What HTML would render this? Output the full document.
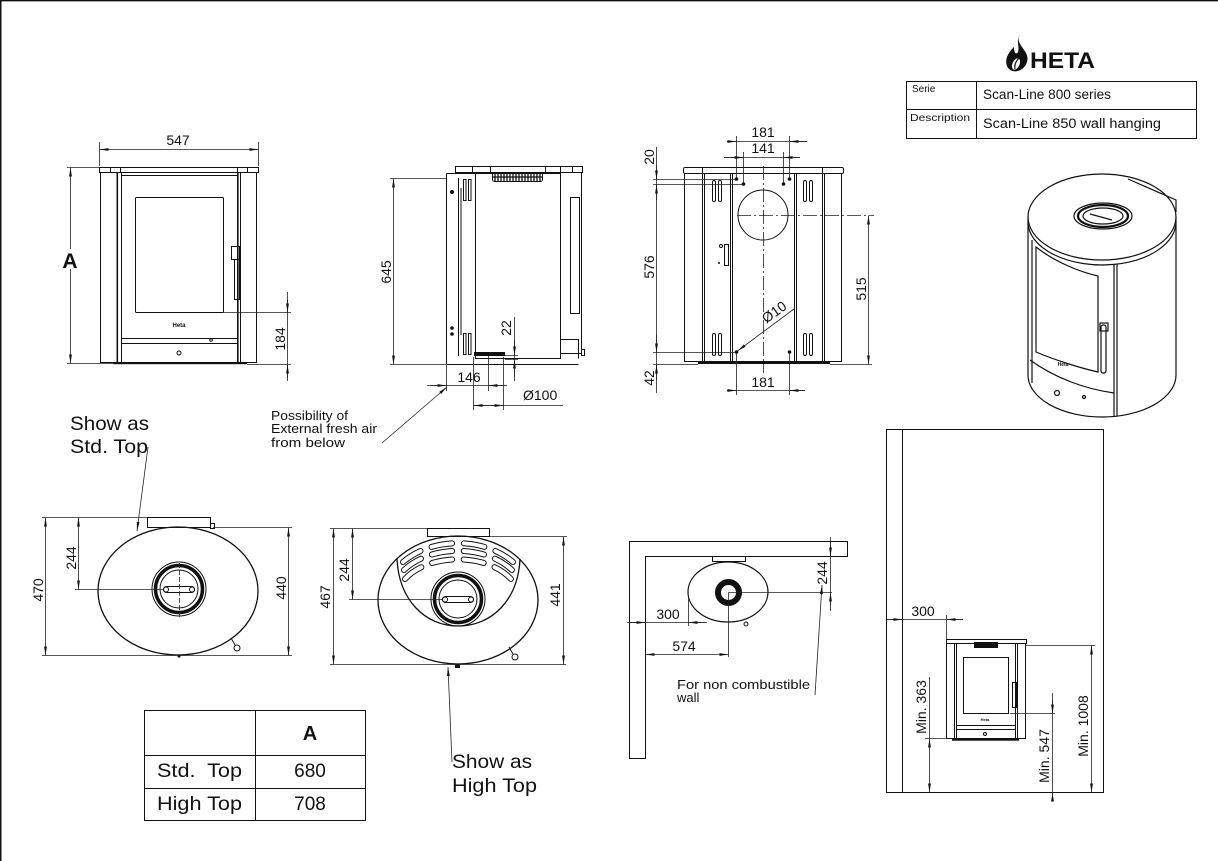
<!DOCTYPE html>
<html><head><meta charset="utf-8"><style>
html,body{margin:0;padding:0;background:#fff;}
svg{display:block;}
text{font-family:"Liberation Sans",sans-serif;fill:#111;}
</style></head><body>
<svg width="1218" height="861" viewBox="0 0 1218 861" xmlns="http://www.w3.org/2000/svg">
<defs>
<marker id="a" viewBox="0 0 9 4" refX="9" refY="2" markerWidth="9" markerHeight="4" orient="auto-start-reverse" markerUnits="userSpaceOnUse"><path d="M0,0.6 L9,2 L0,3.4z" fill="#111"/></marker>
</defs>
<rect width="1218" height="861" fill="#fff"/>
<path d="M0.75,861 V0.6 H1218" stroke="#111" stroke-width="1.5" fill="none"/>

<!-- ============ FRONT VIEW ============ -->
<g fill="none" stroke="#111" stroke-width="1">
<rect x="99.5" y="167.5" width="159" height="5"/>
<path d="M110.5,167.5v5M120.5,167.5v5M237.5,167.5v5M247.5,167.5v5"/>
<rect x="100.5" y="172.5" width="156" height="190"/>
<path d="M117.5,172.5V362.5M121.5,172.5V362.5M237.5,172.5V362.5M240.5,172.5V362.5"/>
<path d="M121.5,175.5H237.5"/>
<rect x="135.5" y="197.5" width="88" height="115" rx="1"/>
<rect x="231.5" y="246.5" width="8" height="13"/>
<rect x="234.5" y="259.5" width="5" height="40"/>
<path d="M121.5,338.5H237.5M121.5,343.5H237.5"/>
<circle cx="179" cy="353" r="2"/>
<circle cx="211" cy="340" r="1.3"/>
</g>
<rect x="116.5" y="172" width="1.6" height="190" fill="#111"/>
<rect x="237" y="172" width="1.6" height="190" fill="#111"/>
<rect x="113" y="362" width="134" height="2.2" fill="#111"/>
<text x="179" y="327" font-size="6" font-weight="bold" text-anchor="middle">Heta</text>

<g stroke="#222" stroke-width="0.8" fill="none">
<path d="M99.5,142V166M258.5,142V166"/>
<line x1="99.5" y1="149.5" x2="258.5" y2="149.5" marker-start="url(#a)" marker-end="url(#a)"/>
<path d="M67,167.5H99M67,363.5H113"/>
<line x1="70.5" y1="167.5" x2="70.5" y2="363.5" marker-start="url(#a)" marker-end="url(#a)"/>
<path d="M223,312.5H291M247,364.5H291M287.5,292V381"/>
<line x1="287.5" y1="300" x2="287.5" y2="312.5" marker-end="url(#a)"/>
<line x1="287.5" y1="378" x2="287.5" y2="364.5" marker-end="url(#a)"/>
</g>
<rect x="60" y="249" width="22" height="20" fill="#fff"/>
<text x="70" y="268" font-size="21" font-weight="bold" text-anchor="middle">A</text>
<text x="178" y="145" font-size="14" text-anchor="middle">547</text>
<text transform="translate(285,339) rotate(-90)" font-size="14" text-anchor="middle">184</text>

<!-- ============ SIDE VIEW ============ -->
<g fill="none" stroke="#111" stroke-width="1">
<rect x="455.5" y="166.5" width="127" height="6"/>
<path d="M472.5,166.5v6M490.5,166.5v6M545.5,166.5v6M560.5,166.5v6M572.5,166.5v6"/>
<path d="M446.5,173.5H475.5M446.5,173.5V364.5"/>
<path d="M458.5,178V356M461,188V335"/>
<rect x="475.5" y="173.5" width="85" height="185"/>
<rect x="560.5" y="172.5" width="21" height="181"/>
<rect x="570.5" y="197.5" width="9" height="116"/>
<path d="M560.5,339.5H578.5V358.5"/>
<rect x="581.5" y="349.5" width="3" height="6"/>
<path d="M446.5,364.5H578.5"/>
<rect x="463.5" y="179.5" width="2.5" height="21"/>
<rect x="468.5" y="179.5" width="2.5" height="21"/>
<rect x="463.5" y="333.5" width="2.5" height="21"/>
<rect x="468.5" y="333.5" width="2.5" height="21"/>
<rect x="492.5" y="172.5" width="50" height="9" rx="2"/>
</g>
<path d="M495,173v8M498,173v8M501,173v8M504,173v8M507,173v8M510,173v8M513,173v8M516,173v8M519,173v8M522,173v8M525,173v8M528,173v8M531,173v8M534,173v8M537,173v8M540,173v8M493,177H542" stroke="#111" stroke-width="1.3"/>
<circle cx="452" cy="192" r="2" fill="#111"/>
<circle cx="452" cy="328" r="1.8" fill="#111"/>
<circle cx="452" cy="334" r="1.8" fill="#111"/>
<rect x="474" y="352" width="31" height="4" fill="#111"/>

<g stroke="#222" stroke-width="0.8" fill="none">
<path d="M390,178.5H446M390,364.5H446"/>
<line x1="393.5" y1="178.5" x2="393.5" y2="364.5" marker-start="url(#a)" marker-end="url(#a)"/>
<path d="M505,355.5H518M505,359.5H518M514.5,317V381"/>
<line x1="514.5" y1="340" x2="514.5" y2="355.5" marker-end="url(#a)"/>
<line x1="514.5" y1="376" x2="514.5" y2="359.5" marker-end="url(#a)"/>
<path d="M446.5,365V391M488.5,356V391M427,385.5H507"/>
<line x1="430" y1="385.5" x2="446.5" y2="385.5" marker-end="url(#a)"/>
<line x1="505" y1="385.5" x2="488.5" y2="385.5" marker-end="url(#a)"/>
<path d="M473.5,357V410M503.5,357V410M473.5,405.5H563"/>
<line x1="488" y1="405.5" x2="473.5" y2="405.5" marker-end="url(#a)"/>
<line x1="488" y1="405.5" x2="503.5" y2="405.5" marker-end="url(#a)"/>
<line x1="382" y1="443" x2="447" y2="387" marker-end="url(#a)"/>
</g>
<text transform="translate(391,272) rotate(-90)" font-size="14" text-anchor="middle">645</text>
<text transform="translate(511,328) rotate(-90)" font-size="14" text-anchor="middle">22</text>
<text x="469" y="382" font-size="14" text-anchor="middle">146</text>
<text x="523" y="400" font-size="14">Ø100</text>
<text x="271" y="420" font-size="13" textLength="77" lengthAdjust="spacingAndGlyphs">Possibility of</text>
<text x="271" y="433" font-size="13" textLength="106" lengthAdjust="spacingAndGlyphs">External fresh air</text>
<text x="271" y="447" font-size="13" textLength="74" lengthAdjust="spacingAndGlyphs">from below</text>

<!-- ============ BACK VIEW ============ -->
<g fill="none" stroke="#111" stroke-width="1">
<rect x="683.5" y="167.5" width="160" height="6" rx="1.5"/>
<path d="M702.5,167.5v6M822.5,167.5v6"/>
<rect x="684.5" y="173.5" width="157" height="188"/>
<path d="M702.5,173.5V361.5M704.5,173.5V361.5M730.5,173.5V361.5M732.5,173.5V361.5M794.5,173.5V361.5M796.5,173.5V361.5M822.5,173.5V361.5M824.5,173.5V361.5"/>
<circle cx="763" cy="215" r="25"/>
<rect x="712.5" y="180.5" width="3" height="21" rx="1.5"/>
<rect x="718.5" y="180.5" width="3" height="21" rx="1.5"/>
<rect x="712.5" y="333.5" width="3" height="22" rx="1.5"/>
<rect x="718.5" y="333.5" width="3" height="22" rx="1.5"/>
<rect x="803.5" y="180.5" width="3" height="21" rx="1.5"/>
<rect x="809.5" y="180.5" width="3" height="21" rx="1.5"/>
<rect x="803.5" y="333.5" width="3" height="22" rx="1.5"/>
<rect x="809.5" y="333.5" width="3" height="22" rx="1.5"/>
<rect x="724.5" y="244.5" width="4" height="21"/>
<circle cx="721" cy="246" r="1.5"/>
</g>
<rect x="698" y="361.5" width="132" height="2.5" fill="#111"/>
<path d="M763.5,166V373M737,215.5H874" stroke="#222" stroke-width="0.8" stroke-dasharray="14 3 2 3" fill="none"/>
<g fill="#111">
<circle cx="736.5" cy="179" r="1.8"/><circle cx="743.5" cy="184" r="1.8"/>
<circle cx="783.5" cy="184" r="1.8"/><circle cx="789.5" cy="179" r="1.8"/>
<circle cx="736.5" cy="352" r="1.8"/><circle cx="789.5" cy="352" r="1.8"/>
<circle cx="719" cy="263" r="1"/>
</g>

<g stroke="#222" stroke-width="0.8" fill="none">
<path d="M736.5,136V178M789.5,136V178M727,141.5H807"/>
<line x1="727" y1="141.5" x2="736.5" y2="141.5" marker-end="url(#a)"/>
<line x1="807" y1="141.5" x2="789.5" y2="141.5" marker-end="url(#a)"/>
<path d="M743.5,152V183M783.5,152V183M724,157.5H800"/>
<line x1="724" y1="157.5" x2="743.5" y2="157.5" marker-end="url(#a)"/>
<line x1="800" y1="157.5" x2="783.5" y2="157.5" marker-end="url(#a)"/>
<path d="M656.5,147V393M653,179.5H735M653,184.5H742M653,352.5H735M653,364.5H698"/>
<line x1="656.5" y1="165" x2="656.5" y2="179.5" marker-end="url(#a)"/>
<line x1="656.5" y1="200" x2="656.5" y2="184.5" marker-end="url(#a)"/>
<line x1="656.5" y1="335" x2="656.5" y2="352.5" marker-end="url(#a)"/>
<line x1="656.5" y1="380" x2="656.5" y2="364.5" marker-end="url(#a)"/>
<path d="M830,364.5H872"/>
<line x1="868.5" y1="215.5" x2="868.5" y2="364.5" marker-start="url(#a)" marker-end="url(#a)"/>
<line x1="794" y1="309" x2="737.5" y2="351" marker-end="url(#a)"/>
<path d="M736.5,353V395M789.5,353V395M727,390.5H805"/>
<line x1="727" y1="390.5" x2="736.5" y2="390.5" marker-end="url(#a)"/>
<line x1="805" y1="390.5" x2="789.5" y2="390.5" marker-end="url(#a)"/>
</g>
<text x="763" y="137" font-size="14" text-anchor="middle">181</text>
<text x="763" y="153" font-size="14" text-anchor="middle">141</text>
<text transform="translate(654,157) rotate(-90)" font-size="14" text-anchor="middle">20</text>
<text transform="translate(654,267) rotate(-90)" font-size="14" text-anchor="middle">576</text>
<text transform="translate(654,378) rotate(-90)" font-size="14" text-anchor="middle">42</text>
<text transform="translate(866,289) rotate(-90)" font-size="14" text-anchor="middle">515</text>
<text transform="translate(777,316) rotate(-36)" font-size="14" text-anchor="middle">Ø10</text>
<text x="763" y="387" font-size="14" text-anchor="middle">181</text>

<!-- ============ LOGO + TITLE TABLE ============ -->
<path d="M1021,33 C1012,44 1031,50 1027,62 C1024,72 1011,75 1007,66 C1004,58 1010,51 1014,47 C1014,53 1016,55 1018,52 C1020,46 1015,40 1021,33 Z" fill="#111"/>
<ellipse cx="1016" cy="64" rx="3.5" ry="6" transform="rotate(25 1016 64)" fill="#fff"/>
<path d="M1015,69 C1014,64 1017,60 1019,58" stroke="#111" stroke-width="1.2" fill="none"/>
<text x="1030" y="68" font-size="22" font-weight="bold" textLength="65" lengthAdjust="spacingAndGlyphs">HETA</text>
<g fill="none" stroke="#111" stroke-width="1">
<rect x="906.5" y="81.5" width="290" height="57"/>
<path d="M976.5,81V138M906,109.5H1196"/>
</g>
<text x="912" y="92" font-size="10">Serie</text>
<text x="983" y="99" font-size="13.5" textLength="128" lengthAdjust="spacingAndGlyphs">Scan-Line 800 series</text>
<text x="910" y="121" font-size="10" textLength="60" lengthAdjust="spacingAndGlyphs">Description</text>
<text x="983" y="128" font-size="13.5" textLength="178" lengthAdjust="spacingAndGlyphs">Scan-Line 850 wall hanging</text>

<!-- ============ 3D VIEW ============ -->
<g fill="none" stroke="#111" stroke-width="1.2">
<path d="M1128,179 L1176,200 L1176,212"/>
<ellipse cx="1102" cy="217" rx="74" ry="43"/>
<path d="M1028,217V222 A74,43 0 0 0 1114,264.4 A74,43 0 0 0 1176,222 V217"/>
<path d="M1028,222V375M1176,222V375"/>
<path d="M1028,375 A74,42 0 0 0 1176,375"/>
<path d="M1114,264V417M1117,264V416"/>
<path d="M1032,240V383"/>
<path d="M1036,247 C1055,262 1080,272 1098,276 V372 C1080,368 1055,360 1036,352 Z"/>
<path d="M1030,360 C1055,378 1085,389 1114,393"/>
<rect x="1101" y="325" width="5" height="48" rx="2"/>
<rect x="1100" y="323" width="8" height="8"/>
<ellipse cx="1103" cy="216" rx="29" ry="13"/>
<ellipse cx="1103" cy="216" rx="25" ry="11" stroke-width="2.2"/>
<ellipse cx="1103" cy="216" rx="20" ry="8"/>
<path d="M1090,214 L1112,220"/>
<circle cx="1057" cy="393" r="2.5"/>
<circle cx="1084" cy="397" r="1.5"/>
</g>
<text x="1063" y="366" font-size="5" font-weight="bold" text-anchor="middle">Heta</text>

<!-- ============ TOP VIEW STD ============ -->
<g fill="none" stroke="#111" stroke-width="1">
<rect x="147.5" y="517.5" width="63" height="10"/>
<rect x="210.5" y="523.5" width="4" height="5"/>
<ellipse cx="178" cy="591" rx="80" ry="64" stroke-width="1.3"/>
<circle cx="179" cy="589" r="27"/>
<circle cx="179" cy="589" r="23.5" stroke-width="3.5"/>
<circle cx="179" cy="589" r="19"/>
<rect x="163.5" y="586.5" width="31" height="6" rx="3"/>
<circle cx="166" cy="589.5" r="2.5"/>
<circle cx="192" cy="589.5" r="2.5"/>
<circle cx="237" cy="648" r="3"/>
<path d="M231,638 L235,645"/>
</g>
<path d="M179.5,563V617" stroke="#222" stroke-width="0.8" stroke-dasharray="5 2"/>
<circle cx="179" cy="656" r="1.6" fill="#111"/>
<g stroke="#222" stroke-width="0.8" fill="none">
<path d="M42,517.5H147M42,655.5H292M213,527.5H292M75,589.5H163"/>
<line x1="45.5" y1="517.5" x2="45.5" y2="655.5" marker-start="url(#a)" marker-end="url(#a)"/>
<line x1="78.5" y1="517.5" x2="78.5" y2="589.5" marker-start="url(#a)" marker-end="url(#a)"/>
<line x1="288.5" y1="527.5" x2="288.5" y2="655.5" marker-start="url(#a)" marker-end="url(#a)"/>
<line x1="148" y1="447" x2="137" y2="531" marker-end="url(#a)"/>
</g>
<text transform="translate(43,590) rotate(-90)" font-size="14" text-anchor="middle">470</text>
<text transform="translate(76,558) rotate(-90)" font-size="14" text-anchor="middle">244</text>
<text transform="translate(286,588) rotate(-90)" font-size="14" text-anchor="middle">440</text>
<text x="70" y="430" font-size="19.5" textLength="79" lengthAdjust="spacingAndGlyphs">Show as</text>
<text x="70" y="453" font-size="19.5" textLength="78" lengthAdjust="spacingAndGlyphs">Std. Top</text>

<!-- ============ TOP VIEW HIGH ============ -->
<g fill="none" stroke="#111" stroke-width="1">
<rect x="427.5" y="528.5" width="62" height="8"/>
<ellipse cx="458" cy="600" rx="80" ry="64" stroke-width="1.3"/>
<path d="M397,559 C399,600 425,626 458,626 C492,626 518,600 520,559" stroke-width="1.3"/>
<circle cx="458" cy="599" r="27"/>
<circle cx="458" cy="599" r="23.5" stroke-width="3.5"/>
<circle cx="458" cy="599" r="19"/>
<rect x="442.5" y="596.5" width="31" height="6" rx="3"/>
<circle cx="445" cy="599.5" r="2.5"/>
<circle cx="471" cy="599.5" r="2.5"/>
<circle cx="515" cy="657" r="3"/>
<path d="M509,647 L513,654"/>
</g>
<g fill="none" stroke-linecap="round">
<path d="M403,562 A74,57 0 0 1 513,562" pathLength="100" stroke="#111" stroke-width="6" stroke-dasharray="17.5 10"/>
<path d="M403,562 A74,57 0 0 1 513,562" pathLength="100" stroke="#fff" stroke-width="4" stroke-dasharray="17.5 10"/>
<path d="M404,570 A68,49 0 0 1 512,570" pathLength="100" stroke="#111" stroke-width="6" stroke-dasharray="17.5 10"/>
<path d="M404,570 A68,49 0 0 1 512,570" pathLength="100" stroke="#fff" stroke-width="4" stroke-dasharray="17.5 10"/>
<path d="M405,579 A62,41 0 0 1 511,579" pathLength="100" stroke="#111" stroke-width="6" stroke-dasharray="17.5 10"/>
<path d="M405,579 A62,41 0 0 1 511,579" pathLength="100" stroke="#fff" stroke-width="4" stroke-dasharray="17.5 10"/>
</g>
<rect x="455" y="664" width="5" height="4" fill="#111"/>
<g stroke="#222" stroke-width="0.8" fill="none">
<path d="M330,528.5H427M330,664.5H566M490,536.5H567M349,599.5H442"/>
<line x1="333.5" y1="528.5" x2="333.5" y2="664.5" marker-start="url(#a)" marker-end="url(#a)"/>
<line x1="352.5" y1="528.5" x2="352.5" y2="599.5" marker-start="url(#a)" marker-end="url(#a)"/>
<line x1="563.5" y1="536.5" x2="563.5" y2="664.5" marker-start="url(#a)" marker-end="url(#a)"/>
<line x1="452" y1="762" x2="448" y2="667" marker-end="url(#a)"/>
</g>
<text transform="translate(330,597) rotate(-90)" font-size="14" text-anchor="middle">467</text>
<text transform="translate(349,570) rotate(-90)" font-size="14" text-anchor="middle">244</text>
<text transform="translate(560,595) rotate(-90)" font-size="14" text-anchor="middle">441</text>
<text x="452" y="768" font-size="19.5" textLength="80" lengthAdjust="spacingAndGlyphs">Show as</text>
<text x="452" y="792" font-size="19.5" textLength="85" lengthAdjust="spacingAndGlyphs">High Top</text>

<!-- ============ WALL CORNER ============ -->
<g fill="none" stroke="#111" stroke-width="1">
<path d="M629.5,758.5V541.5H847.5V556.5H645.5V758.5Z"/>
<ellipse cx="728" cy="592" rx="40" ry="30" stroke-width="1.2"/>
<rect x="712.5" y="556.5" width="33" height="5"/>
<circle cx="746" cy="624" r="2"/>
</g>
<circle cx="728.5" cy="592.5" r="10.5" fill="none" stroke="#111" stroke-width="6"/>
<g stroke="#222" stroke-width="0.8" fill="none">
<path d="M728.5,592.5H832M728.5,592.5V657"/>
<path d="M830.5,537V611"/>
<line x1="830.5" y1="542" x2="830.5" y2="556.5" marker-end="url(#a)"/>
<line x1="830.5" y1="606" x2="830.5" y2="592.5" marker-end="url(#a)"/>
<path d="M627,622.5H707M688.5,595V626"/>
<line x1="630" y1="622.5" x2="645.5" y2="622.5" marker-end="url(#a)"/>
<line x1="705" y1="622.5" x2="688.5" y2="622.5" marker-end="url(#a)"/>
<line x1="645.5" y1="654.5" x2="728.5" y2="654.5" marker-start="url(#a)" marker-end="url(#a)"/>
<line x1="815" y1="695" x2="822" y2="585" marker-end="url(#a)"/>
</g>
<text transform="translate(827,573) rotate(-90)" font-size="14" text-anchor="middle">244</text>
<text x="668" y="619" font-size="14" text-anchor="middle">300</text>
<text x="684" y="651" font-size="14" text-anchor="middle">574</text>
<text x="677" y="689" font-size="13" textLength="133" lengthAdjust="spacingAndGlyphs">For non combustible</text>
<text x="677" y="702" font-size="13">wall</text>

<!-- ============ WALL ELEVATION ============ -->
<g fill="none" stroke="#111" stroke-width="1">
<rect x="886.5" y="429.5" width="217" height="363"/>
<path d="M902.5,429.5V792.5"/>
<rect x="946.5" y="639.5" width="80" height="4"/>
<rect x="946.5" y="643.5" width="79" height="95"/>
<path d="M954.5,643.5V738.5M956.5,643.5V738.5M1015.5,643.5V738.5M1017.5,643.5V738.5"/>
<rect x="963.5" y="657.5" width="45" height="56"/>
<rect x="1012.5" y="682.5" width="4" height="25"/>
<path d="M956.5,725.5H1015.5M956.5,729.5H1015.5"/>
<circle cx="985" cy="734" r="1.5"/>
</g>
<rect x="974" y="642" width="24" height="6" fill="#111"/>
<rect x="952" y="738.5" width="67" height="2.2" fill="#111"/>
<text x="985" y="721" font-size="4" font-weight="bold" text-anchor="middle">Heta</text>
<g stroke="#222" stroke-width="0.8" fill="none">
<path d="M886,619.5H963M946.5,615V639"/>
<line x1="888" y1="619.5" x2="902.5" y2="619.5" marker-end="url(#a)"/>
<line x1="963" y1="619.5" x2="946.5" y2="619.5" marker-end="url(#a)"/>
<path d="M925,738.5H952M929.5,677V738.5"/>
<line x1="929.5" y1="738.5" x2="929.5" y2="792.5" marker-start="url(#a)" marker-end="url(#a)"/>
<path d="M1010,713.5H1055M1052.5,693V800"/>
<line x1="1052.5" y1="700" x2="1052.5" y2="713.5" marker-end="url(#a)"/>
<line x1="1052.5" y1="801" x2="1052.5" y2="792.5" marker-end="url(#a)"/>
<path d="M1026,645.5H1095"/>
<line x1="1091.5" y1="645.5" x2="1091.5" y2="792.5" marker-start="url(#a)" marker-end="url(#a)"/>
</g>
<text x="923" y="616" font-size="14" text-anchor="middle">300</text>
<text transform="translate(926,707) rotate(-90)" font-size="14" text-anchor="middle">Min. 363</text>
<text transform="translate(1049,756) rotate(-90)" font-size="14" text-anchor="middle">Min. 547</text>
<text transform="translate(1088,726) rotate(-90)" font-size="14" text-anchor="middle">Min. 1008</text>

<!-- ============ A TABLE ============ -->
<g fill="none" stroke="#111" stroke-width="1">
<rect x="144.5" y="710.5" width="221" height="110"/>
<path d="M255.5,710V820M144,755.5H366M144,788.5H366"/>
</g>
<text x="310" y="740" font-size="20" font-weight="bold" text-anchor="middle">A</text>
<text x="157" y="777" font-size="19" textLength="85" lengthAdjust="spacingAndGlyphs">Std.&#160; Top</text>
<text x="310" y="777" font-size="19" text-anchor="middle">680</text>
<text x="157" y="810" font-size="19" textLength="85" lengthAdjust="spacingAndGlyphs">High Top</text>
<text x="310" y="810" font-size="19" text-anchor="middle">708</text>
</svg>
</body></html>
